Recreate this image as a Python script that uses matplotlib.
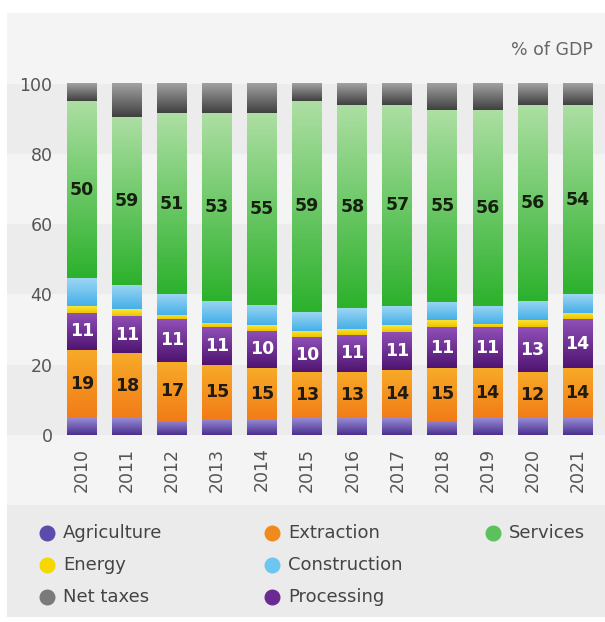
import numpy as np
import matplotlib
matplotlib.use("Agg")
import matplotlib.pyplot as plt
from matplotlib.colors import LinearSegmentedColormap
from matplotlib.patches import Rectangle
from matplotlib.lines import Line2D

years = ["2010", "2011", "2012", "2013", "2014", "2015", "2016", "2017", "2018", "2019", "2020", "2021"]
agriculture = [4.7, 4.7, 4.1, 4.5, 4.3, 4.7, 4.7, 4.7, 4.1, 4.7, 4.7, 4.7]
extraction = [19.5, 18.5, 16.8, 15.4, 14.7, 13.3, 13.3, 13.8, 14.9, 14.3, 13.3, 14.3]
processing = [10.6, 10.7, 12.0, 10.7, 10.7, 9.8, 10.4, 10.9, 11.6, 11.6, 12.6, 13.9]
energy = [1.9, 1.9, 1.2, 1.2, 1.6, 1.9, 1.9, 1.9, 2.1, 0.9, 2.1, 1.9]
construction = [7.9, 6.9, 6.0, 6.4, 5.7, 5.4, 5.7, 5.4, 5.2, 5.2, 5.5, 5.3]
services = [50.4, 47.9, 51.4, 53.3, 54.5, 59.9, 57.9, 57.2, 54.6, 55.8, 55.7, 53.8]
net_taxes = [5.0, 9.4, 8.5, 8.5, 8.5, 5.0, 6.1, 6.1, 7.5, 7.5, 6.1, 6.1]

extraction_labels = [19, 18, 17, 15, 15, 13, 13, 14, 15, 14, 12, 14]
processing_labels = [11, 11, 11, 11, 10, 10, 11, 11, 11, 11, 13, 14]
services_labels = [50, 59, 51, 53, 55, 59, 58, 57, 55, 56, 56, 54]

yticks = [0, 20, 40, 60, 80, 100]

series = [
    ("Agriculture", agriculture, "#4a2f8e", "#978bd4", "#5b4bab", None, None),
    ("Extraction", extraction, "#f27c18", "#f7ab28", "#f08a1e", extraction_labels, "#1f1a12"),
    ("Processing", processing, "#4f1470", "#9050b8", "#6a2a92", processing_labels, "white"),
    ("Energy", energy, "#eec400", "#fbe63a", "#f5d800", None, None),
    ("Construction", construction, "#45b0e8", "#9dd6f3", "#6cc6ef", None, None),
    ("Services", services, "#2cb12c", "#addfa3", "#5cc05c", services_labels, "#15200f"),
    ("Net taxes", net_taxes, "#404040", "#a2a2a2", "#7a7a7a", None, None),
]

W, H = 605, 622
fig = plt.figure(figsize=(W / 100, H / 100), dpi=100)
fig.patch.set_facecolor("white")

# background panels (pixel -> figure fraction)
def px_rect(x0, y0, x1, y1, color):
    fig.patches.append(Rectangle((x0 / W, 1 - y1 / H), (x1 - x0) / W, (y1 - y0) / H,
                                 transform=fig.transFigure, facecolor=color,
                                 edgecolor="none", zorder=-10))

px_rect(7, 13, 605, 505, "#f5f4f5")
px_rect(7, 505, 605, 617, "#ebebeb")

ax_left, ax_right = 59.5, 600
ax_bottom_px, ax_top_px = 435, 76.5
ax = fig.add_axes([ax_left / W, 1 - ax_bottom_px / H, (ax_right - ax_left) / W,
                   (ax_bottom_px - ax_top_px) / H])
ax.set_facecolor("none")

x = np.arange(len(years))
width = 0.66
bottom = np.zeros(len(years))
for name, vals, dark, light, lc, labels, tcolor in series:
    vals = np.array(vals)
    bars = ax.bar(x, vals, width, bottom=bottom, color=lc, linewidth=0, zorder=2)
    cmap = LinearSegmentedColormap.from_list(name, [dark, light])
    grad = np.linspace(0, 1, 128).reshape(-1, 1)
    for p in bars.patches:
        x0, y0 = p.get_x(), p.get_y()
        ax.imshow(grad, extent=[x0, x0 + p.get_width(), y0, y0 + p.get_height()],
                  cmap=cmap, aspect="auto", origin="lower", zorder=3,
                  interpolation="bilinear")
    if labels is not None:
        for xi, b, v, lab in zip(x, bottom, vals, labels):
            ax.text(xi, b + v / 2, str(lab), ha="center", va="center",
                    fontsize=12.5, fontweight="bold", color=tcolor, zorder=5)
    bottom = bottom + vals

# horizontal bands
band = "#ececec"
xmin = -(ax_left - 7) / (ax_right - ax_left)
xmax = 1 + (605 - ax_right) / (ax_right - ax_left)
for lo, hi in [(0, 20), (40, 60), (80, 100)]:
    ax.axhspan(lo, hi, xmin=xmin, xmax=xmax, facecolor=band, edgecolor="none",
               zorder=0, clip_on=False)

ax.set_xlim(-0.5, len(years) - 0.5)
ax.set_ylim(0, 102)
ax.set_yticks(yticks)
ax.set_yticklabels([str(t) for t in yticks])
ax.set_xticks(x)
ax.set_xticklabels(years, rotation=90)
ax.tick_params(axis="both", length=0, labelsize=12.5, labelcolor="#555555")
ax.tick_params(axis="y", pad=5)
ax.tick_params(axis="x", pad=9)
for s in ax.spines.values():
    s.set_visible(False)

fig.text(593 / W, 1 - 50 / H, "% of GDP", ha="right", va="center",
         fontsize=12.5, color="#666666")

# legend
legend_items = [
    ("Agriculture", "#5b4bab", 47, 533), ("Extraction", "#f08a1e", 272, 533),
    ("Services", "#5cc05c", 493, 533), ("Energy", "#f5d800", 47, 565),
    ("Construction", "#6cc6ef", 272, 565), ("Net taxes", "#7a7a7a", 47, 597),
    ("Processing", "#6a2a92", 272, 597),
]
for label, col, lx, ly in legend_items:
    fig.add_artist(Line2D([lx / W], [1 - ly / H], transform=fig.transFigure,
                          marker="o", markersize=10.5, color=col, linestyle="none"))
    fig.text((lx + 16) / W, 1 - ly / H, label, ha="left", va="center",
             fontsize=13, color="#444444")

fig.savefig("out.png", dpi=100)
